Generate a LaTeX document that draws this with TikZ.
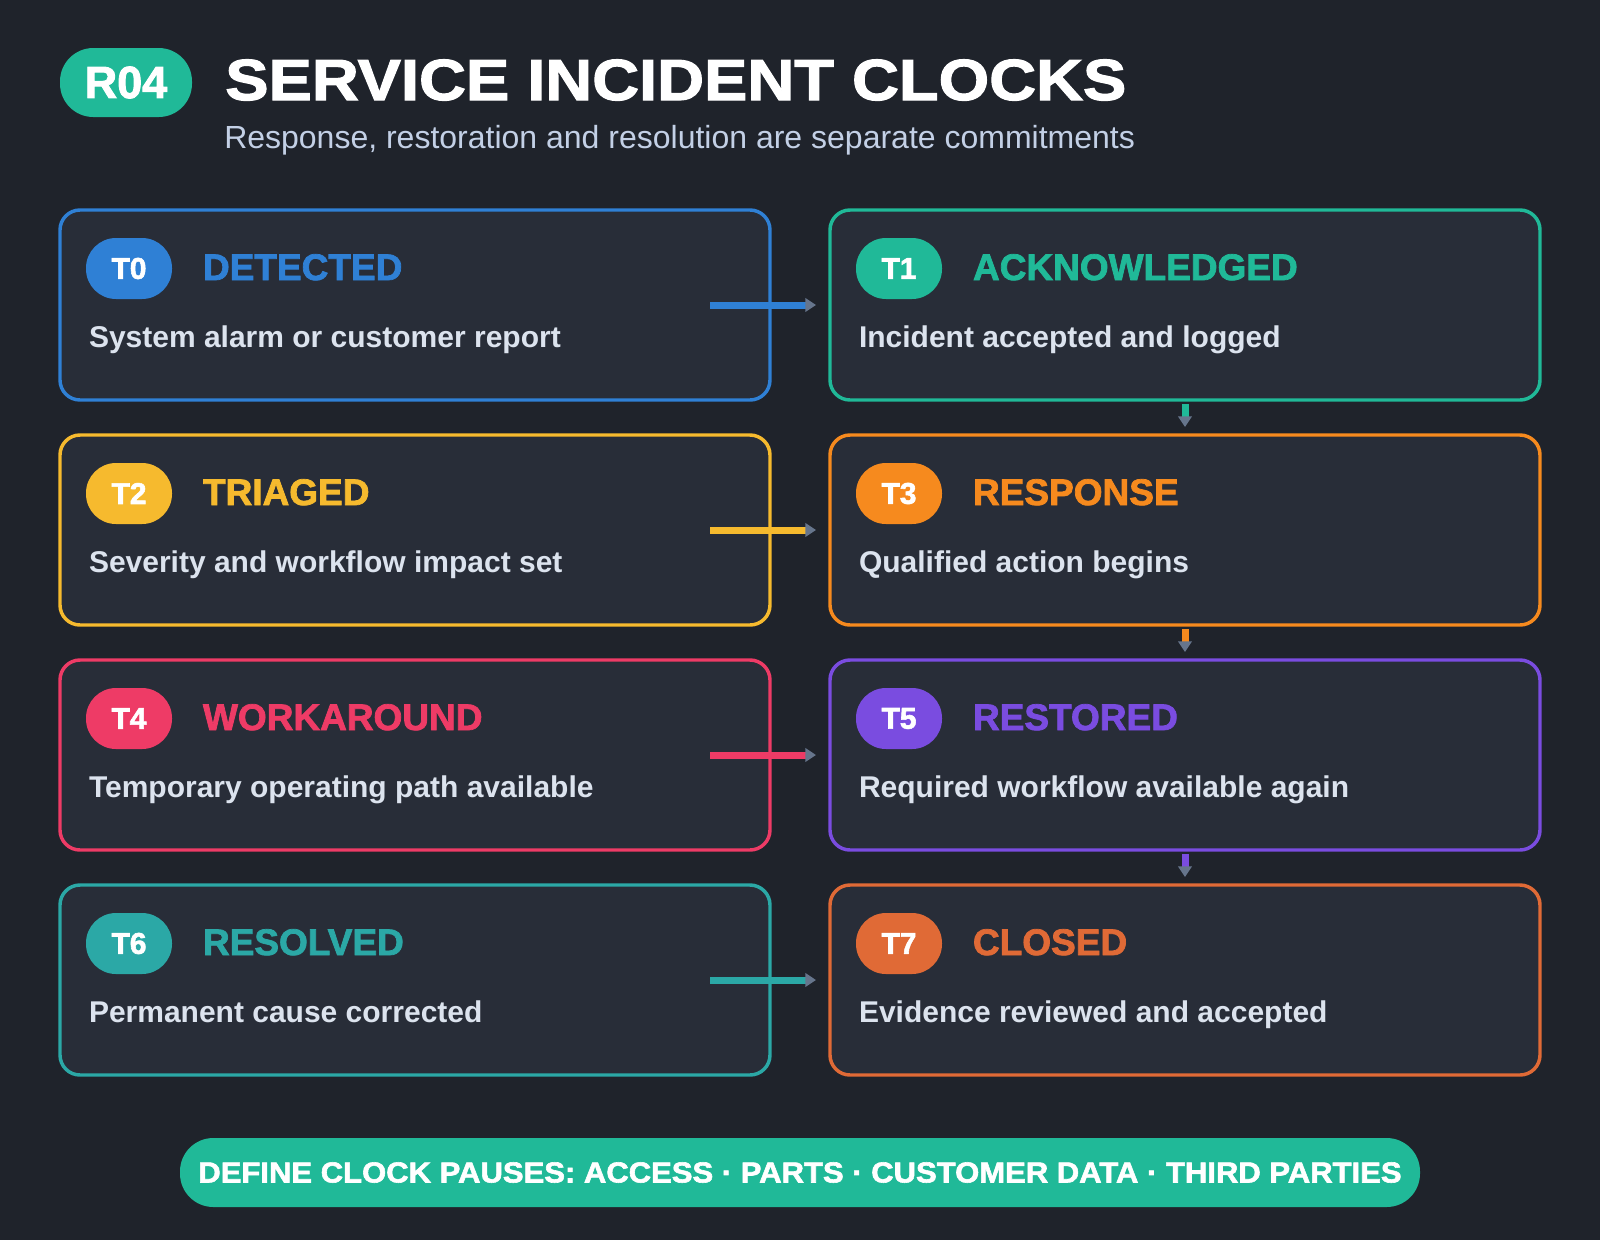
\documentclass[tikz,border=0pt]{standalone}
\usepackage{fontspec}
\setmainfont{Liberation Sans}
\newfontfamily\heavyfont[FakeBold=2]{Liberation Sans Bold}
\newfontfamily\titlefont[FakeBold=2,FakeStretch=1.12]{Liberation Sans Bold}
\newfontfamily\bannerfont[FakeBold=2,FakeStretch=1.07]{Liberation Sans Bold}
\newfontfamily\bodyfont{Liberation Sans Bold}
\usetikzlibrary{arrows.meta}
\definecolor{bg}{HTML}{1F232B}
\definecolor{boxbg}{HTML}{282D38}
\definecolor{bodycol}{HTML}{DCE3EE}
\definecolor{subcol}{HTML}{C3D0E6}
\definecolor{arrowgray}{HTML}{66758C}
\definecolor{c0}{HTML}{2F80D5}
\definecolor{c1}{HTML}{20B998}
\definecolor{c2}{HTML}{F6BA2E}
\definecolor{c3}{HTML}{F68A1E}
\definecolor{c4}{HTML}{EE3B66}
\definecolor{c5}{HTML}{7A4CE0}
\definecolor{c6}{HTML}{2BA8A6}
\definecolor{c7}{HTML}{E06A36}
\tikzset{
  box/.style={rectangle, rounded corners=15pt, line width=2.6pt, fill=boxbg,
    minimum width=710*0.75pt, minimum height=190*0.75pt, inner sep=0pt, outer sep=0pt},
  badge/.style={rectangle, rounded corners=22.5pt, minimum width=86*0.75pt,
    minimum height=61*0.75pt, inner sep=0pt, outer sep=0pt, text=white,
    font=\heavyfont\fontsize{22.5pt}{26pt}\selectfont},
  headtxt/.style={anchor=base west, inner sep=0pt, outer sep=0pt,
    font=\heavyfont\fontsize{27.75pt}{32pt}\selectfont},
  bodytxt/.style={anchor=base west, inner sep=0pt, outer sep=0pt, text=bodycol,
    font=\bodyfont\fontsize{22.5pt}{26pt}\selectfont},
  conn/.style={line width=5.25pt, -{Triangle[length=8pt,width=10pt,color=arrowgray]}},
}
\begin{document}
\begin{tikzpicture}[x=0.75pt,y=-0.75pt]
\fill[bg] (0,0) rectangle (1600,1240);
\useasboundingbox (0,0) rectangle (1600,1240);
% header
\node[rectangle, rounded corners=25pt, fill=c1, minimum width=132*0.75pt,
  minimum height=69*0.75pt, inner sep=0pt, text=white,
  font=\heavyfont\fontsize{33.75pt}{38pt}\selectfont] (tag) at (126,82.5) {R04};
\node[anchor=base west, inner sep=0pt, text=white,
  font=\titlefont\fontsize{43.5pt}{50pt}\selectfont] (title) at (225,100) {SERVICE INCIDENT CLOCKS};
\node[anchor=base west, inner sep=0pt, text=subcol,
  font=\fontsize{24pt}{28pt}\selectfont] (subtitle) at (224,148) {Response, restoration and resolution are separate commitments};
% steps
\foreach \i/\cx/\cy/\head/\body in {
  0/60/210/DETECTED/System alarm or customer report,
  1/830/210/ACKNOWLEDGED/Incident accepted and logged,
  2/60/435/TRIAGED/Severity and workflow impact set,
  3/830/435/RESPONSE/Qualified action begins,
  4/60/660/WORKAROUND/Temporary operating path available,
  5/830/660/RESTORED/Required workflow available again,
  6/60/885/RESOLVED/Permanent cause corrected,
  7/830/885/CLOSED/Evidence reviewed and accepted}{
  \node[box, draw=c\i] (b\i) at (\cx+355,\cy+95) {};
  \node[badge, fill=c\i] (g\i) at (\cx+69,\cy+58.5) {T\i};
  \node[headtxt, text=c\i] (h\i) at (\cx+143,\cy+70) {\head};
  \node[bodytxt] (t\i) at (\cx+29,\cy+137) {\body};
}
% connectors
\foreach \a/\b in {0/1,2/3,4/5,6/7}
  \draw[conn, draw=c\a] ([xshift=-45pt]b\a.east) -- ([xshift=-10.5pt]b\b.west);
\foreach \a/\b in {1/3,3/5,5/7}
  \draw[conn, draw=c\a] ([yshift=-3pt]b\a.south) -- ([yshift=6pt]b\b.north);
% banner
\node[rectangle, rounded corners=25pt, fill=c1, minimum width=1240*0.75pt,
  minimum height=69*0.75pt, inner sep=0pt, text=white,
  font=\bannerfont\fontsize{21.75pt}{26pt}\selectfont] (banner) at (800,1172.5)
  {DEFINE CLOCK PAUSES: ACCESS · PARTS · CUSTOMER DATA · THIRD PARTIES};
\end{tikzpicture}
\end{document}
